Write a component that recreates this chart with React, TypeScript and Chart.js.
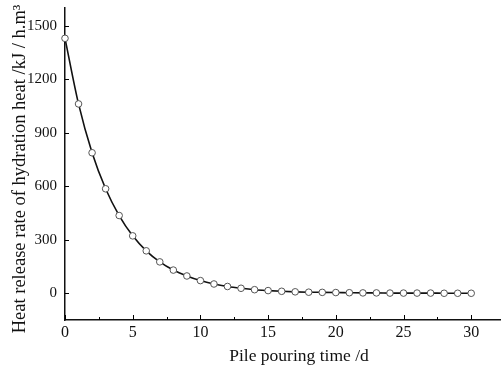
import React, { useEffect, useRef } from "react";
import { Chart, registerables } from "chart.js";

Chart.register(...registerables);

const days: number[] = [0,1,2,3,4,5,6,7,8,9,10,11,12,13,14,15,16,17,18,19,20,21,22,23,24,25,26,27,28,29,30];
const heatRate: number[] = [1430,1062,788,586,436,322,238,176,130,97,71,52,38,28,20,15,11,8,6,5,4,3,2,2,1,1,1,1,0,0,0];
const xTicks: number[] = [0,5,10,15,20,25,30];
const yTicks: number[] = [0,300,600,900,1200,1500];
const xTitle = "Pile pouring time /d";
const yTitle = "Heat release rate of hydration heat /kJ / h.m\u00B3";

const FONT = "'Liberation Serif', 'Times New Roman', serif";

const insideTicks = {
  id: "insideTicks",
  afterDraw(chart: any) {
    const { ctx, scales, chartArea } = chart;
    const xs = scales.x, ys = scales.y;
    ctx.save();
    ctx.strokeStyle = "#000";
    ctx.lineWidth = 1;
    for (let v = 0; v <= 30; v += 2.5) {
      const px = Math.round(xs.getPixelForValue(v)) + 0.5;
      const len = v % 5 === 0 ? 5 : 3;
      ctx.beginPath();
      ctx.moveTo(px, chartArea.bottom);
      ctx.lineTo(px, chartArea.bottom - len);
      ctx.stroke();
    }
    for (const v of yTicks) {
      const py = Math.round(ys.getPixelForValue(v)) + 0.5;
      ctx.beginPath();
      ctx.moveTo(chartArea.left, py);
      ctx.lineTo(chartArea.left + 4, py);
      ctx.stroke();
    }
    // axis titles
    ctx.fillStyle = "#111";
    ctx.textAlign = "center";
    ctx.textBaseline = "middle";
    ctx.font = `17.5px ${FONT}`;
    ctx.fillText(xTitle, 299, 356);
    ctx.translate(20, 169);
    ctx.rotate(-Math.PI / 2);
    ctx.font = `18.5px ${FONT}`;
    ctx.fillText(yTitle, 0, 0);
    ctx.restore();
  },
};

export default function App() {
  const ref = useRef<HTMLCanvasElement>(null);
  useEffect(() => {
    if (!ref.current) return;
    const chart = new Chart(ref.current, {
      type: "line",
      data: {
        datasets: [
          {
            data: days.map((d, i) => ({ x: d, y: heatRate[i] })),
            borderColor: "#111",
            borderWidth: 1.6,
            cubicInterpolationMode: "monotone",
            pointRadius: 3.3,
            pointBorderWidth: 1,
            pointBorderColor: "#555",
            pointBackgroundColor: "#fff",
            clip: false as any,
          },
        ],
      },
      plugins: [insideTicks],
      options: {
        animation: false,
        responsive: false,
        maintainAspectRatio: false,
        layout: { autoPadding: false, padding: { top: 8, right: 0, left: 0, bottom: 0 } },
        plugins: { legend: { display: false }, tooltip: { enabled: false } },
        scales: {
          x: {
            type: "linear",
            min: 0,
            max: 32.2,
            afterFit: (s: any) => { s.height = 47; s.paddingLeft = 0; s.paddingRight = 0; },
            afterBuildTicks: (s: any) => { s.ticks = xTicks.map((v) => ({ value: v })); },
            grid: { display: true, drawOnChartArea: false, drawTicks: false },
            border: { display: true, color: "#111", width: 1.5 },
            ticks: { color: "#111", font: { family: FONT, size: 16 }, padding: 3, callback: (v: any) => String(v) },
            title: { display: false, text: xTitle },
          },
          y: {
            type: "linear",
            min: -150,
            max: 1600,
            afterFit: (s: any) => { s.width = 65; s.paddingTop = 0; s.paddingBottom = 0; },
            afterBuildTicks: (s: any) => { s.ticks = yTicks.map((v) => ({ value: v })); },
            grid: { display: true, drawOnChartArea: false, drawTicks: false },
            border: { display: true, color: "#111", width: 1.5 },
            ticks: { color: "#111", font: { family: FONT, size: 15 }, padding: 8, callback: (v: any) => String(v) },
            title: { display: false, text: yTitle },
          },
        },
      },
    });
    return () => chart.destroy();
  }, []);
  return (
    <div style={{ position: "fixed", left: 0, top: 0, width: 501, height: 367, background: "#fff" }}>
      <canvas ref={ref} width={501} height={367} style={{ width: 501, height: 367 }} />
    </div>
  );
}
